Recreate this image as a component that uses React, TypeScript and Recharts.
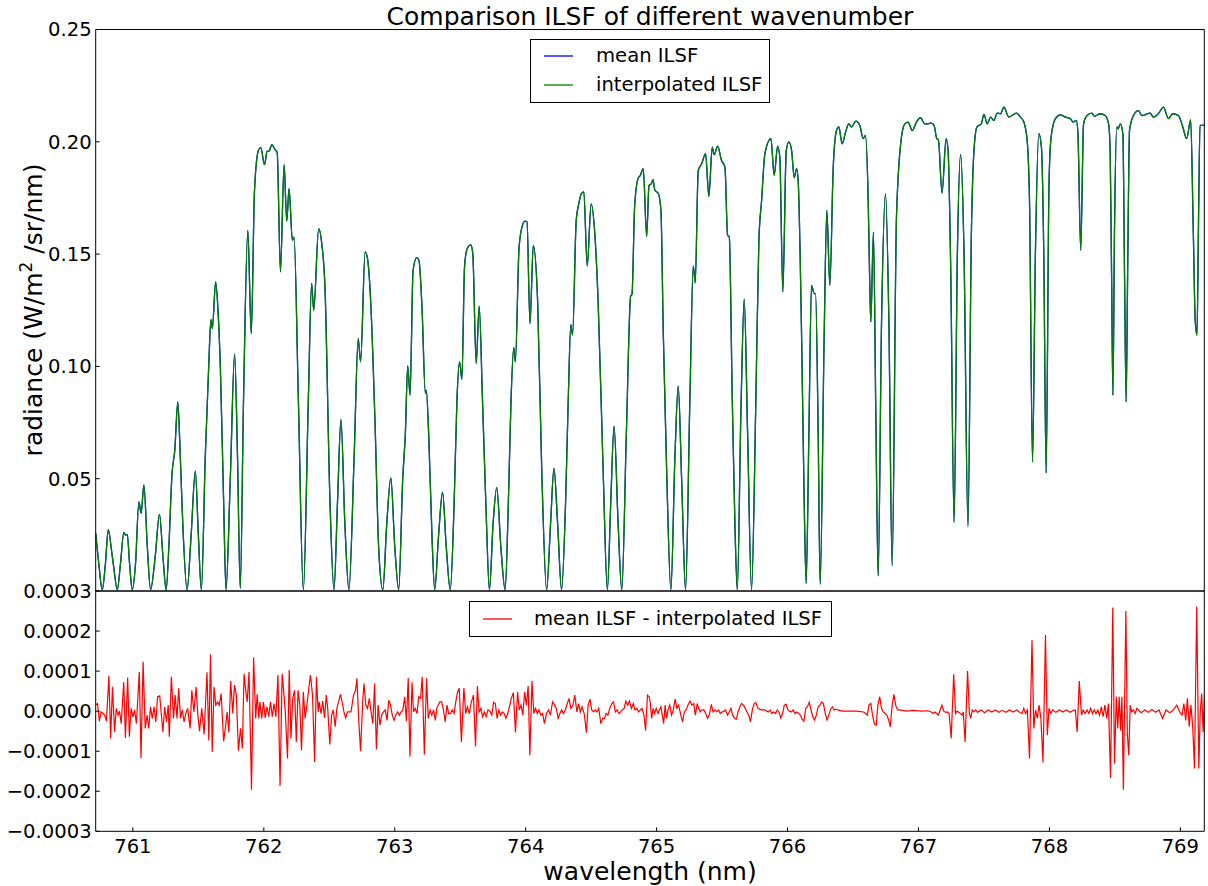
import { LineChart, Line, XAxis, YAxis, Legend } from 'recharts';

// radiance spectrum [wavelength nm, W/m2/sr/nm] (mean and interpolated ILSF overlap at this scale)
const radiancePoints: [number, number][] = [
  [760.716, 0.0257], [760.74, 0.012], [760.766, 0.0005], [760.79, 0.012], [760.812, 0.0273], [760.838, 0.0175],
  [760.855, 0.01], [760.881, 0.0005], [760.905, 0.012], [760.931, 0.0261], [760.944, 0.0249], [760.957, 0.0252],
  [760.975, 0.012], [760.995, 0.0005], [761.02, 0.012], [761.046, 0.0397], [761.063, 0.0346], [761.084, 0.0472],
  [761.11, 0.02], [761.135, 0.0005], [761.17, 0.015], [761.203, 0.0341], [761.23, 0.015], [761.254, 0.0005],
  [761.275, 0.02], [761.299, 0.0523], [761.32, 0.0626], [761.343, 0.0842], [761.362, 0.06], [761.381, 0.03],
  [761.414, 0.0005], [761.445, 0.025], [761.477, 0.0534], [761.5, 0.025], [761.523, 0.0005], [761.553, 0.06],
  [761.579, 0.0998], [761.596, 0.1208], [761.607, 0.1168], [761.632, 0.1376], [761.65, 0.125], [761.668, 0.0998],
  [761.693, 0.04], [761.711, 0.0005], [761.744, 0.05], [761.777, 0.1054], [761.799, 0.06], [761.82, 0.0012],
  [761.845, 0.085], [761.878, 0.1606], [761.904, 0.1146], [761.929, 0.1784], [761.959, 0.1962], [761.977, 0.1974],
  [762.005, 0.1898], [762.025, 0.1957], [762.041, 0.1959], [762.061, 0.1987], [762.086, 0.1965], [762.102, 0.1954],
  [762.127, 0.1421], [762.155, 0.1898], [762.175, 0.1647], [762.193, 0.1791], [762.218, 0.1561], [762.231, 0.1576],
  [762.264, 0.085], [762.302, 0.0005], [762.34, 0.085], [762.365, 0.1369], [762.381, 0.125], [762.419, 0.1613],
  [762.442, 0.155], [762.467, 0.1354], [762.505, 0.0405], [762.536, 0.0005], [762.563, 0.04], [762.589, 0.0764],
  [762.619, 0.03], [762.65, 0.0005], [762.69, 0.06], [762.721, 0.1124], [762.739, 0.102], [762.774, 0.151],
  [762.792, 0.148], [762.817, 0.128], [762.848, 0.0776], [762.878, 0.0182], [762.909, 0.0005], [762.939, 0.03],
  [762.97, 0.0504], [763.0, 0.02], [763.03, 0.0005], [763.061, 0.05], [763.081, 0.0701], [763.099, 0.1002],
  [763.117, 0.0872], [763.14, 0.1428], [763.168, 0.1484], [763.185, 0.1472], [763.208, 0.1265], [763.234, 0.0879],
  [763.241, 0.0894], [763.259, 0.0701], [763.284, 0.025], [763.305, 0.0005], [763.335, 0.025], [763.365, 0.044],
  [763.393, 0.02], [763.424, 0.0005], [763.454, 0.04], [763.475, 0.0849], [763.495, 0.102], [763.513, 0.0942],
  [763.533, 0.1443], [763.553, 0.1524], [763.581, 0.1541], [763.596, 0.1502], [763.622, 0.1013], [763.645, 0.1268],
  [763.67, 0.0853], [763.698, 0.035], [763.723, 0.0005], [763.751, 0.03], [763.779, 0.046], [763.81, 0.02],
  [763.843, 0.0005], [763.868, 0.04], [763.888, 0.0849], [763.909, 0.1084], [763.921, 0.102], [763.949, 0.1524],
  [763.972, 0.1621], [763.995, 0.1647], [764.01, 0.1644], [764.033, 0.1191], [764.058, 0.1539], [764.091, 0.1294],
  [764.122, 0.0553], [764.16, 0.0005], [764.19, 0.03], [764.216, 0.0546], [764.244, 0.03], [764.274, 0.0005],
  [764.305, 0.04], [764.325, 0.0849], [764.345, 0.1186], [764.358, 0.114], [764.386, 0.165], [764.406, 0.1725],
  [764.426, 0.177], [764.444, 0.1777], [764.47, 0.1447], [764.5, 0.1724], [764.528, 0.1591], [764.553, 0.1295],
  [764.591, 0.055], [764.624, 0.0005], [764.65, 0.04], [764.675, 0.0734], [764.706, 0.03], [764.734, 0.0005],
  [764.769, 0.0701], [764.802, 0.1314], [764.812, 0.132], [764.832, 0.171], [764.858, 0.1836], [764.876, 0.1851],
  [764.898, 0.188], [764.924, 0.1579], [764.942, 0.1806], [764.959, 0.1813], [764.972, 0.1831], [764.987, 0.1784],
  [765.013, 0.177], [765.033, 0.1695], [765.051, 0.1147], [765.076, 0.0553], [765.109, 0.0005], [765.14, 0.06],
  [765.165, 0.0913], [765.191, 0.05], [765.221, 0.0005], [765.254, 0.0849], [765.28, 0.1447], [765.295, 0.1372],
  [765.318, 0.1873], [765.344, 0.1902], [765.374, 0.1947], [765.399, 0.1757], [765.425, 0.1976], [765.44, 0.1942],
  [765.466, 0.1981], [765.496, 0.1917], [765.522, 0.1887], [765.542, 0.1584], [765.555, 0.1576], [765.578, 0.0849],
  [765.598, 0.03], [765.616, 0.0005], [765.644, 0.08], [765.669, 0.1299], [765.695, 0.07], [765.725, 0.0005],
  [765.758, 0.0849], [765.781, 0.1561], [765.802, 0.1739], [765.827, 0.1947], [765.873, 0.2014], [765.898, 0.1851],
  [765.924, 0.1981], [765.941, 0.1932], [765.964, 0.1332], [765.99, 0.196], [766.01, 0.2], [766.031, 0.1962],
  [766.051, 0.184], [766.069, 0.188], [766.081, 0.1828], [766.107, 0.1146], [766.127, 0.0404], [766.142, 0.0034],
  [766.163, 0.07], [766.183, 0.1361], [766.204, 0.1324], [766.214, 0.1324], [766.234, 0.07], [766.249, 0.0031],
  [766.28, 0.1146], [766.3, 0.1695], [766.323, 0.1361], [766.349, 0.1887], [766.374, 0.205], [766.392, 0.2066],
  [766.417, 0.1991], [766.443, 0.2043], [766.468, 0.208], [766.489, 0.2066], [766.522, 0.2092], [766.552, 0.2073],
  [766.578, 0.2014], [766.595, 0.2028], [766.616, 0.1739], [766.628, 0.1369], [766.636, 0.1198], [766.656, 0.1598],
  [766.674, 0.08], [766.692, 0.0067], [766.718, 0.12], [766.748, 0.1769], [766.774, 0.12], [766.799, 0.0111],
  [766.832, 0.1665], [766.87, 0.2021], [766.896, 0.208], [766.921, 0.2088], [766.952, 0.205], [766.985, 0.2088],
  [767.015, 0.2107], [767.048, 0.208], [767.074, 0.208], [767.099, 0.2083], [767.119, 0.2073], [767.14, 0.2014],
  [767.152, 0.2009], [767.18, 0.1772], [767.211, 0.2014], [767.226, 0.1962], [767.246, 0.1443], [767.272, 0.0305],
  [767.297, 0.15], [767.322, 0.1944], [767.348, 0.15], [767.378, 0.0286], [767.404, 0.1591], [767.424, 0.1962],
  [767.447, 0.2066], [767.48, 0.208], [767.5, 0.2122], [767.525, 0.208], [767.551, 0.211], [767.576, 0.2095],
  [767.602, 0.2128], [767.627, 0.2125], [767.652, 0.2154], [767.69, 0.211], [767.749, 0.2128], [767.779, 0.211],
  [767.805, 0.2088], [767.83, 0.2006], [767.848, 0.1739], [767.871, 0.0575], [767.893, 0.15], [767.919, 0.2036],
  [767.939, 0.1977], [767.957, 0.15], [767.975, 0.0526], [767.997, 0.1813], [768.013, 0.2021], [768.046, 0.2103],
  [768.084, 0.212], [768.122, 0.211], [768.16, 0.2103], [768.18, 0.2088], [768.206, 0.2095], [768.218, 0.2036],
  [768.239, 0.1517], [768.261, 0.208], [768.287, 0.2117], [768.325, 0.2128], [768.343, 0.2113], [768.388, 0.2125],
  [768.426, 0.2117], [768.452, 0.208], [768.464, 0.1962], [768.475, 0.14], [768.485, 0.0872], [768.497, 0.16],
  [768.515, 0.2066], [768.525, 0.2058], [768.541, 0.208], [768.561, 0.2036], [768.574, 0.14], [768.586, 0.0842],
  [768.599, 0.15], [768.612, 0.2051], [768.642, 0.2117], [768.68, 0.2139], [768.706, 0.2117], [768.769, 0.2128],
  [768.794, 0.211], [768.832, 0.2125], [768.871, 0.2154], [768.909, 0.2103], [768.942, 0.2125], [768.985, 0.2117],
  [769.018, 0.2068], [769.048, 0.2014], [769.079, 0.2098], [769.099, 0.16], [769.114, 0.12], [769.127, 0.1139],
  [769.14, 0.17], [769.15, 0.2073], [769.175, 0.2073], [769.19, 0.208],
];

// mean ILSF - interpolated ILSF [wavelength nm, difference]
const residualPoints: [number, number][] = [
  [760.717, 0.15e-4], [760.73, 0.19e-4], [760.744, -0.25e-4], [760.757, -0.02e-4], [760.771, -0.06e-4], [760.784, -0.1e-4],
  [760.798, -0.25e-4], [760.817, 0.88e-4], [760.83, -0.68e-4], [760.844, 0.61e-4], [760.86, -0.52e-4], [760.873, 0.07e-4],
  [760.887, -0.1e-4], [760.898, 0.0], [760.911, -0.31e-4], [760.93, 0.73e-4], [760.943, -0.67e-4], [760.96, 0.84e-4],
  [760.973, -0.64e-4], [760.987, 0.07e-4], [761.0, -0.14e-4], [761.013, 0.03e-4], [761.027, -0.31e-4], [761.049, 0.98e-4],
  [761.062, -1.17e-4], [761.078, 1.23e-4], [761.094, -0.43e-4], [761.108, -0.1e-4], [761.121, -0.43e-4], [761.135, 0.11e-4],
  [761.148, -0.18e-4], [761.162, 0.11e-4], [761.175, -0.27e-4], [761.189, 0.36e-4], [761.205, 0.38e-4], [761.216, -0.02e-4],
  [761.229, -0.52e-4], [761.243, 0.11e-4], [761.256, -0.27e-4], [761.27, 0.15e-4], [761.278, -0.64e-4], [761.294, 0.86e-4],
  [761.31, -0.18e-4], [761.323, 0.4e-4], [761.337, -0.18e-4], [761.35, 0.57e-4], [761.364, -0.18e-4], [761.377, 0.03e-4],
  [761.391, -0.27e-4], [761.404, -0.06e-4], [761.418, 0.07e-4], [761.437, -0.43e-4], [761.45, 0.52e-4], [761.466, -0.02e-4],
  [761.483, 0.6e-4], [761.496, -0.1e-4], [761.509, -0.5e-4], [761.526, 0.07e-4], [761.544, -0.58e-4], [761.566, 0.97e-4],
  [761.58, -0.73e-4], [761.593, 1.42e-4], [761.606, -1.02e-4], [761.62, 0.61e-4], [761.633, 0.15e-4], [761.647, 0.23e-4],
  [761.66, 0.15e-4], [761.674, 0.44e-4], [761.693, -0.75e-4], [761.709, -0.35e-4], [761.72, -0.02e-4], [761.733, -0.53e-4],
  [761.747, 0.75e-4], [761.763, -0.06e-4], [761.776, 0.65e-4], [761.79, 0.4e-4], [761.806, -0.99e-4], [761.822, -0.43e-4],
  [761.836, -0.93e-4], [761.849, 0.93e-4], [761.863, 0.48e-4], [761.873, 0.23e-4], [761.887, 0.98e-4], [761.906, -1.96e-4],
  [761.922, 1.34e-4], [761.938, -0.18e-4], [761.949, 0.42e-4], [761.962, -0.18e-4], [761.97, 0.23e-4], [761.984, -0.18e-4],
  [761.997, 0.23e-4], [762.011, -0.17e-4], [762.024, 0.11e-4], [762.038, -0.14e-4], [762.051, 0.23e-4], [762.065, -0.14e-4],
  [762.078, 0.19e-4], [762.092, -0.14e-4], [762.108, 0.9e-4], [762.124, -1.87e-4], [762.14, 0.93e-4], [762.154, 0.4e-4],
  [762.164, -0.02e-4], [762.181, -1.18e-4], [762.194, 1.03e-4], [762.207, -0.68e-4], [762.221, 0.32e-4], [762.235, 0.52e-4],
  [762.248, -0.77e-4], [762.262, 0.52e-4], [762.275, 0.15e-4], [762.288, -0.98e-4], [762.302, 0.48e-4], [762.315, -0.18e-4],
  [762.329, 0.15e-4], [762.345, 0.61e-4], [762.356, 0.9e-4], [762.372, 0.4e-4], [762.388, -1.27e-4], [762.402, 0.86e-4],
  [762.415, -0.02e-4], [762.423, 0.23e-4], [762.437, -0.06e-4], [762.45, 0.25e-4], [762.464, -0.17e-4], [762.477, 0.4e-4],
  [762.488, 0.07e-4], [762.504, -0.83e-4], [762.518, -0.1e-4], [762.531, 0.03e-4], [762.545, -0.39e-4], [762.558, 0.07e-4],
  [762.571, 0.23e-4], [762.585, 0.42e-4], [762.598, 0.23e-4], [762.612, -0.02e-4], [762.625, -0.17e-4], [762.639, -0.02e-4],
  [762.652, -0.02e-4], [762.666, -0.02e-4], [762.685, 0.4e-4], [762.701, 0.52e-4], [762.711, 0.82e-4], [762.725, -0.23e-4],
  [762.739, -1.0e-4], [762.755, 0.23e-4], [762.765, 0.69e-4], [762.779, 0.15e-4], [762.792, 0.07e-4], [762.806, 0.32e-4],
  [762.819, -0.02e-4], [762.833, -0.31e-4], [762.846, 0.69e-4], [762.86, -0.96e-4], [762.873, 0.15e-4], [762.887, -0.35e-4],
  [762.9, -0.1e-4], [762.914, -0.02e-4], [762.927, 0.03e-4], [762.941, -0.23e-4], [762.954, 0.27e-4], [762.968, 0.15e-4],
  [762.981, -0.1e-4], [762.995, -0.23e-4], [763.008, -0.1e-4], [763.022, -0.02e-4], [763.035, -0.1e-4], [763.049, -0.02e-4],
  [763.062, 0.03e-4], [763.076, 0.36e-4], [763.089, -0.25e-4], [763.103, 0.83e-4], [763.116, -1.13e-4], [763.132, 0.72e-4],
  [763.143, -0.02e-4], [763.156, 0.07e-4], [763.17, -0.06e-4], [763.183, 0.36e-4], [763.197, 0.32e-4], [763.21, 0.86e-4],
  [763.226, -1.08e-4], [763.243, 0.82e-4], [763.256, -0.18e-4], [763.27, 0.03e-4], [763.283, -0.1e-4], [763.297, 0.03e-4],
  [763.31, -0.23e-4], [763.321, 0.07e-4], [763.331, 0.15e-4], [763.345, 0.23e-4], [763.358, 0.23e-4], [763.372, 0.03e-4],
  [763.385, -0.27e-4], [763.399, 0.15e-4], [763.412, -0.06e-4], [763.426, -0.06e-4], [763.439, 0.03e-4], [763.453, -0.06e-4],
  [763.466, 0.23e-4], [763.48, 0.48e-4], [763.493, 0.57e-4], [763.509, -0.77e-4], [763.528, 0.58e-4], [763.542, -0.06e-4],
  [763.555, 0.11e-4], [763.569, -0.06e-4], [763.582, 0.19e-4], [763.601, 0.4e-4], [763.617, -0.88e-4], [763.631, 0.63e-4],
  [763.644, -0.02e-4], [763.658, 0.07e-4], [763.671, -0.14e-4], [763.685, -0.02e-4], [763.698, -0.14e-4], [763.712, 0.03e-4],
  [763.728, 0.0], [763.741, -0.1e-4], [763.755, 0.22e-4], [763.768, 0.19e-4], [763.782, -0.18e-4], [763.795, 0.03e-4],
  [763.809, -0.1e-4], [763.822, -0.02e-4], [763.836, -0.06e-4], [763.849, -0.18e-4], [763.863, -0.06e-4], [763.876, 0.11e-4],
  [763.89, 0.32e-4], [763.906, 0.46e-4], [763.922, -0.53e-4], [763.938, 0.48e-4], [763.951, 0.03e-4], [763.965, 0.15e-4],
  [763.978, -0.1e-4], [763.992, 0.48e-4], [764.005, 0.15e-4], [764.019, 0.63e-4], [764.032, -1.1e-4], [764.048, 0.75e-4],
  [764.062, -0.06e-4], [764.075, 0.07e-4], [764.089, -0.06e-4], [764.102, 0.03e-4], [764.116, -0.1e-4], [764.129, -0.06e-4],
  [764.143, -0.31e-4], [764.159, -0.06e-4], [764.175, 0.03e-4], [764.189, -0.1e-4], [764.205, 0.23e-4], [764.221, 0.15e-4],
  [764.234, 0.07e-4], [764.248, -0.18e-4], [764.261, -0.06e-4], [764.275, 0.03e-4], [764.288, -0.06e-4], [764.302, 0.03e-4],
  [764.318, 0.19e-4], [764.331, 0.32e-4], [764.345, 0.07e-4], [764.361, 0.15e-4], [764.375, 0.4e-4], [764.391, -0.02e-4],
  [764.404, 0.19e-4], [764.418, -0.02e-4], [764.431, 0.11e-4], [764.447, -0.06e-4], [764.464, -0.54e-4], [764.477, 0.15e-4],
  [764.491, 0.3e-4], [764.504, 0.03e-4], [764.518, -0.02e-4], [764.531, 0.03e-4], [764.545, -0.02e-4], [764.558, 0.07e-4],
  [764.574, -0.31e-4], [764.588, -0.18e-4], [764.601, -0.18e-4], [764.615, -0.06e-4], [764.628, -0.1e-4], [764.642, 0.07e-4],
  [764.658, 0.19e-4], [764.671, 0.23e-4], [764.685, -0.02e-4], [764.698, 0.03e-4], [764.712, -0.06e-4], [764.725, -0.02e-4],
  [764.738, 0.03e-4], [764.752, 0.07e-4], [764.765, 0.25e-4], [764.779, 0.15e-4], [764.792, 0.25e-4], [764.808, 0.07e-4],
  [764.822, 0.19e-4], [764.835, 0.03e-4], [764.849, 0.07e-4], [764.862, -0.02e-4], [764.876, 0.03e-4], [764.889, 0.07e-4],
  [764.903, -0.1e-4], [764.916, -0.48e-4], [764.93, 0.4e-4], [764.943, 0.36e-4], [764.951, 0.23e-4], [764.962, -0.18e-4],
  [764.973, 0.07e-4], [764.984, -0.06e-4], [764.997, 0.07e-4], [765.011, -0.06e-4], [765.022, 0.03e-4], [765.033, 0.11e-4],
  [765.043, -0.1e-4], [765.054, -0.31e-4], [765.065, 0.15e-4], [765.076, -0.18e-4], [765.087, 0.03e-4], [765.1, 0.15e-4],
  [765.114, -0.1e-4], [765.128, 0.03e-4], [765.141, 0.3e-4], [765.155, 0.07e-4], [765.168, 0.15e-4], [765.185, -0.1e-4],
  [765.198, -0.27e-4], [765.212, -0.02e-4], [765.225, 0.03e-4], [765.239, 0.15e-4], [765.255, 0.25e-4], [765.269, 0.15e-4],
  [765.283, 0.19e-4], [765.296, -0.1e-4], [765.31, 0.19e-4], [765.321, 0.07e-4], [765.334, -0.02e-4], [765.348, 0.03e-4],
  [765.361, 0.03e-4], [765.375, -0.06e-4], [765.389, -0.18e-4], [765.402, -0.1e-4], [765.418, 0.17e-4], [765.432, -0.02e-4],
  [765.446, 0.03e-4], [765.459, -0.02e-4], [765.473, 0.03e-4], [765.486, -0.06e-4], [765.5, -0.02e-4], [765.514, 0.0],
  [765.527, 0.03e-4], [765.541, -0.1e-4], [765.554, -0.03e-4], [765.568, 0.07e-4], [765.581, -0.1e-4], [765.595, -0.18e-4],
  [765.609, -0.2e-4], [765.622, -0.02e-4], [765.636, 0.11e-4], [765.649, 0.19e-4], [765.663, 0.15e-4], [765.677, 0.07e-4],
  [765.69, -0.02e-4], [765.704, -0.1e-4], [765.717, -0.27e-4], [765.731, 0.03e-4], [765.745, 0.19e-4], [765.758, 0.22e-4],
  [765.772, 0.08e-4], [765.785, 0.05e-4], [765.799, 0.03e-4], [765.812, 0.03e-4], [765.826, 0.03e-4], [765.84, 0.0],
  [765.853, -0.02e-4], [765.867, 0.03e-4], [765.88, -0.06e-4], [765.894, -0.02e-4], [765.908, -0.06e-4], [765.921, 0.03e-4],
  [765.935, -0.02e-4], [765.948, -0.17e-4], [765.962, -0.06e-4], [765.975, 0.15e-4], [765.989, 0.17e-4], [766.003, 0.03e-4],
  [766.016, 0.0], [766.03, -0.02e-4], [766.043, 0.03e-4], [766.057, -0.06e-4], [766.071, -0.02e-4], [766.084, -0.06e-4],
  [766.098, -0.1e-4], [766.111, -0.2e-4], [766.125, -0.25e-4], [766.139, 0.07e-4], [766.152, 0.11e-4], [766.166, 0.22e-4],
  [766.179, 0.03e-4], [766.193, -0.14e-4], [766.206, -0.22e-4], [766.22, -0.1e-4], [766.234, 0.11e-4], [766.247, 0.15e-4],
  [766.261, 0.23e-4], [766.274, 0.19e-4], [766.288, -0.06e-4], [766.302, -0.22e-4], [766.315, -0.1e-4], [766.329, 0.05e-4],
  [766.342, 0.11e-4], [766.356, 0.03e-4], [766.369, 0.05e-4], [766.383, 0.03e-4], [766.418, 0.0], [766.473, 0.0],
  [766.527, 0.0], [766.581, -0.02e-4], [766.595, -0.06e-4], [766.609, -0.1e-4], [766.622, 0.15e-4], [766.636, 0.19e-4],
  [766.649, -0.1e-4], [766.663, -0.31e-4], [766.677, -0.35e-4], [766.69, 0.15e-4], [766.704, 0.36e-4], [766.717, 0.07e-4],
  [766.731, -0.02e-4], [766.744, -0.06e-4], [766.758, -0.1e-4], [766.772, -0.22e-4], [766.785, -0.39e-4], [766.799, 0.15e-4],
  [766.812, 0.42e-4], [766.826, 0.15e-4], [766.84, 0.03e-4], [766.853, 0.03e-4], [766.908, 0.0], [766.962, 0.02e-4],
  [767.017, 0.0], [767.071, 0.01e-4], [767.098, -0.02e-4], [767.111, -0.06e-4], [767.125, -0.02e-4], [767.139, -0.06e-4],
  [767.152, -0.1e-4], [767.166, 0.03e-4], [767.179, 0.15e-4], [767.193, 0.0], [767.207, -0.03e-4], [767.22, -0.02e-4],
  [767.234, -0.06e-4], [767.25, -0.68e-4], [767.269, 0.92e-4], [767.283, -0.06e-4], [767.294, 0.0], [767.307, -0.03e-4],
  [767.321, -0.06e-4], [767.334, -0.1e-4], [767.342, -0.02e-4], [767.356, -0.77e-4], [767.375, 1.0e-4], [767.389, -0.06e-4],
  [767.4, -0.18e-4], [767.41, 0.03e-4], [767.424, -0.02e-4], [767.437, 0.03e-4], [767.451, -0.03e-4], [767.478, 0.03e-4],
  [767.505, -0.04e-4], [767.532, 0.03e-4], [767.56, -0.02e-4], [767.587, 0.03e-4], [767.614, -0.03e-4], [767.641, 0.02e-4],
  [767.668, -0.03e-4], [767.695, 0.03e-4], [767.723, -0.02e-4], [767.75, 0.03e-4], [767.777, -0.04e-4], [767.791, -0.06e-4],
  [767.804, 0.07e-4], [767.818, -0.06e-4], [767.832, 0.03e-4], [767.848, -1.18e-4], [767.867, 1.77e-4], [767.881, -0.43e-4],
  [767.894, 0.03e-4], [767.908, -0.18e-4], [767.921, 0.15e-4], [767.935, -0.18e-4], [767.951, -1.28e-4], [767.97, 1.9e-4],
  [767.984, -0.6e-4], [767.997, 0.07e-4], [768.011, -0.06e-4], [768.025, 0.03e-4], [768.049, -0.03e-4], [768.076, 0.03e-4],
  [768.103, -0.02e-4], [768.13, 0.03e-4], [768.158, -0.03e-4], [768.185, 0.02e-4], [768.198, 0.03e-4], [768.212, -0.52e-4],
  [768.228, 0.75e-4], [768.245, -0.1e-4], [768.258, 0.03e-4], [768.272, -0.06e-4], [768.288, 0.03e-4], [768.302, -0.06e-4],
  [768.315, 0.07e-4], [768.329, -0.06e-4], [768.342, 0.03e-4], [768.356, -0.06e-4], [768.37, 0.03e-4], [768.383, -0.1e-4],
  [768.397, 0.11e-4], [768.41, -0.14e-4], [768.424, 0.15e-4], [768.438, -0.18e-4], [768.451, 0.19e-4], [768.467, -1.67e-4],
  [768.484, 2.59e-4], [768.497, -1.31e-4], [768.511, 0.36e-4], [768.522, -0.43e-4], [768.533, 0.36e-4], [768.544, -0.48e-4],
  [768.554, 0.36e-4], [768.565, -1.96e-4], [768.584, 2.5e-4], [768.595, -0.56e-4], [768.606, -1.1e-4], [768.617, 0.15e-4],
  [768.628, -0.02e-4], [768.641, 0.03e-4], [768.655, -0.06e-4], [768.668, 0.07e-4], [768.701, -0.04e-4], [768.728, 0.03e-4],
  [768.756, -0.03e-4], [768.783, 0.04e-4], [768.81, -0.03e-4], [768.837, 0.03e-4], [768.864, -0.18e-4], [768.891, 0.03e-4],
  [768.919, -0.04e-4], [768.946, 0.03e-4], [768.973, 0.15e-4], [769.0, -0.05e-4], [769.013, -0.1e-4], [769.027, 0.19e-4],
  [769.041, -0.23e-4], [769.054, 0.32e-4], [769.068, -0.39e-4], [769.081, 0.15e-4], [769.095, -0.43e-4], [769.108, -1.43e-4],
  [769.125, 2.61e-4], [769.141, -1.43e-4], [769.152, -0.02e-4], [769.163, 0.44e-4], [769.174, -0.52e-4], [769.185, 0.48e-4],
];

const wavelengthTicks = [761, 762, 763, 764, 765, 766, 767, 768, 769];
const radianceTicks = [0.05, 0.1, 0.15, 0.2, 0.25];
const residualTicks = [-0.0003, -0.0002, -0.0001, 0, 0.0001, 0.0002, 0.0003];
const topLegendOrder = ['mean ILSF', 'interpolated ILSF'];

const spectrumData = radiancePoints.map(([wl, r]) => ({ wl, mean: r, interp: r }));
const residualData = residualPoints.map(([wl, d]) => ({ wl, diff: d }));

const FONT = "'DejaVu Sans', 'Liberation Sans', sans-serif";
const X_DOMAIN: [number, number] = [760.716, 769.183];
const TICK_FONT = { fill: '#000', fontSize: 19.6, fontFamily: FONT };
const AXIS = { stroke: '#000', strokeWidth: 1 };

function LegendBox({ payload, order, width, height, rowTops, textLeft }: any) {
  const items = [...(payload || [])];
  if (order) items.sort((a: any, b: any) => order.indexOf(a.value) - order.indexOf(b.value));
  return (
    <div
      style={{
        width, height, boxSizing: 'border-box', border: '1px solid #000', background: '#fff',
        position: 'relative', fontFamily: FONT, fontSize: 19.6, color: '#000',
      }}
    >
      {items.map((p: any, i: number) => (
        <div key={i} style={{ position: 'absolute', left: 0, top: rowTops[i] - 12, height: 24, display: 'flex', alignItems: 'center', whiteSpace: 'nowrap' }}>
          <svg width={textLeft} height={24} style={{ display: 'block' }}>
            <line x1={13} x2={42} y1={12} y2={12} stroke={p.color} strokeWidth={1.3} />
          </svg>
          <span style={{ lineHeight: '24px' }}>{p.value}</span>
        </div>
      ))}
    </div>
  );
}

const fmtResidual = (v: number) => v.toFixed(4).replace('-', '\u2212');

export default function App() {
  return (
    <div style={{ position: 'absolute', left: 0, top: 0, width: 1208, height: 886, background: '#fff', overflow: 'hidden' }}>
      <div style={{ position: 'absolute', left: 0, top: 0 }}>
        <LineChart width={1208} height={600} data={spectrumData} margin={{ top: 28.5, right: 2.7, bottom: 8, left: 0 }}>
          <XAxis xAxisId="b" dataKey="wl" type="number" domain={X_DOMAIN} ticks={wavelengthTicks} interval={0}
            allowDataOverflow tick={false} tickSize={-4} height={1} axisLine={AXIS} tickLine={AXIS} />
          <XAxis xAxisId="t" orientation="top" dataKey="wl" type="number" domain={X_DOMAIN} ticks={wavelengthTicks} interval={0}
            allowDataOverflow tick={false} tickSize={-4} height={1} axisLine={AXIS} tickLine={AXIS} />
          <YAxis yAxisId="l" type="number" domain={[0, 0.25]} ticks={radianceTicks} interval={0} allowDataOverflow
            width={95.7} tickSize={-4} tickMargin={8} tick={TICK_FONT} tickFormatter={(v: number) => v.toFixed(2)}
            axisLine={AXIS} tickLine={AXIS} />
          <YAxis yAxisId="r" orientation="right" type="number" domain={[0, 0.25]} ticks={radianceTicks} interval={0}
            allowDataOverflow width={1} tickSize={-4} tick={false} axisLine={AXIS} tickLine={AXIS} />
          <Line xAxisId="b" yAxisId="l" type="monotone" dataKey="mean" name="mean ILSF" stroke="#0000ff"
            strokeWidth={1.3} dot={false} activeDot={false} isAnimationActive={false} />
          <Line xAxisId="b" yAxisId="l" type="monotone" dataKey="interp" name="interpolated ILSF" stroke="#008000"
            strokeWidth={1.3} dot={false} activeDot={false} isAnimationActive={false} />
          <Legend layout="horizontal" verticalAlign="middle" align="center"
            wrapperStyle={{ left: 530, top: 39, width: 'auto', height: 'auto' }}
            content={(props: any) => (
              <LegendBox payload={props.payload} order={topLegendOrder} width={240} height={64} rowTops={[16, 45]} textLeft={65} />
            )} />
        </LineChart>
      </div>

      <div style={{ position: 'absolute', left: 0, top: 580 }}>
        <LineChart width={1208} height={306} data={residualData} margin={{ top: 10, right: 2.7, bottom: 24.7, left: 0 }}>
          <XAxis xAxisId="b" dataKey="wl" type="number" domain={X_DOMAIN} ticks={wavelengthTicks} interval={0}
            allowDataOverflow height={30} tickSize={-4} tickMargin={12} tick={TICK_FONT} axisLine={AXIS} tickLine={AXIS} />
          <XAxis xAxisId="t" orientation="top" dataKey="wl" type="number" domain={X_DOMAIN} ticks={wavelengthTicks} interval={0}
            allowDataOverflow tick={false} tickSize={-4} height={1} axisLine={AXIS} tickLine={AXIS} />
          <YAxis yAxisId="l" type="number" domain={[-0.0003, 0.0003]} ticks={residualTicks} interval={0} allowDataOverflow
            width={95.7} tickSize={-4} tickMargin={8} tick={TICK_FONT} tickFormatter={fmtResidual}
            axisLine={AXIS} tickLine={AXIS} />
          <YAxis yAxisId="r" orientation="right" type="number" domain={[-0.0003, 0.0003]} ticks={residualTicks} interval={0}
            allowDataOverflow width={1} tickSize={-4} tick={false} axisLine={AXIS} tickLine={AXIS} />
          <Line xAxisId="b" yAxisId="l" type="linear" dataKey="diff" name="mean ILSF - interpolated ILSF" stroke="#ff0000"
            strokeWidth={1.2} dot={false} activeDot={false} isAnimationActive={false} />
          <Legend layout="horizontal" verticalAlign="middle" align="center"
            wrapperStyle={{ left: 469, top: 21, width: 'auto', height: 'auto' }}
            content={(props: any) => <LegendBox payload={props.payload} width={363} height={36} rowTops={[17]} textLeft={64} />} />
        </LineChart>
      </div>

      <svg width={1208} height={886} style={{ position: 'absolute', left: 0, top: 0, pointerEvents: 'none' }}>
        <text x={650} y={25} textAnchor="middle" fontFamily={FONT} fontSize={25} fill="#000">
          Comparison ILSF of different wavenumber
        </text>
        <text transform="translate(42,310) rotate(-90)" textAnchor="middle" fontFamily={FONT} fontSize={25} fill="#000">
          radiance (W/m<tspan dy={-10} fontSize={17}>2</tspan><tspan dy={10}> /sr/nm)</tspan>
        </text>
        <text x={650} y={880} textAnchor="middle" fontFamily={FONT} fontSize={25} fill="#000">
          wavelength (nm)
        </text>
      </svg>
    </div>
  );
}
